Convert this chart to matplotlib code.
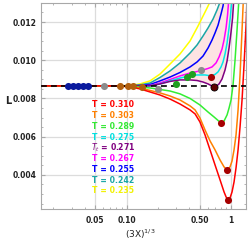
import matplotlib
matplotlib.use("Agg")
import matplotlib.pyplot as plt
from matplotlib.ticker import FixedLocator, MultipleLocator, LogLocator, NullFormatter

# ---- data ----
L_ref = 0.00865

yellow_x = [0.0152, 0.0867, 0.108, 0.1346, 0.168, 0.2094, 0.2607, 0.325, 0.4055, 0.483, 0.564, 0.6295, 0.673]
yellow_y = [0.00866, 0.00866, 0.00868, 0.00876, 0.00892, 0.00928, 0.00980, 0.01033, 0.01101, 0.01179, 0.01252, 0.01305, 0.01336]

teal_x = [0.0152, 0.0867, 0.108, 0.1346, 0.168, 0.2094, 0.2607, 0.325, 0.4055, 0.473, 0.5395, 0.6026, 0.673, 0.7345, 0.785, 0.802]
teal_y = [0.00866, 0.00866, 0.00866, 0.00871, 0.00881, 0.00910, 0.00944, 0.00986, 0.01038, 0.01080, 0.01127, 0.01169, 0.01216, 0.01263, 0.01305, 0.01336]

blue_x = [0.0152, 0.0867, 0.108, 0.1346, 0.168, 0.2094, 0.2607, 0.325, 0.4055, 0.473, 0.5395, 0.6026, 0.658, 0.703, 0.751, 0.802, 0.838, 0.867]
blue_y = [0.00866, 0.00866, 0.00866, 0.00868, 0.00873, 0.00892, 0.00912, 0.00936, 0.00965, 0.00991, 0.01022, 0.01064, 0.01106, 0.01143, 0.01184, 0.01242, 0.01284, 0.01336]

magenta_x = [0.0152, 0.0867, 0.1346, 0.168, 0.2094, 0.2607, 0.325, 0.4055, 0.473, 0.5395, 0.6026, 0.658, 0.7187, 0.768, 0.820, 0.857, 0.896, 0.926, 0.957]
magenta_y = [0.00866, 0.00866, 0.00866, 0.00868, 0.00881, 0.00899, 0.00918, 0.00933, 0.00941, 0.00949, 0.00957, 0.00965, 0.00986, 0.01017, 0.01059, 0.01106, 0.01169, 0.01237, 0.01336]

cyan_x = [0.0152, 0.0867, 0.1346, 0.168, 0.2094, 0.2607, 0.325, 0.4055, 0.473, 0.564, 0.644, 0.703, 0.751, 0.802, 0.838, 0.876, 0.916, 0.957, 0.989, 1.022]
cyan_y = [0.00866, 0.00866, 0.00866, 0.00866, 0.00876, 0.00892, 0.00907, 0.00918, 0.00923, 0.00923, 0.00918, 0.00926, 0.00939, 0.00965, 0.00991, 0.01033, 0.01090, 0.01169, 0.01237, 0.01336]

purple_x = [0.0152, 0.0867, 0.1346, 0.168, 0.2094, 0.2607, 0.325, 0.4055, 0.473, 0.5395, 0.6026, 0.658, 0.688, 0.7187, 0.768, 0.820, 0.876, 0.916, 0.957, 1.0, 1.034, 1.068]
purple_y = [0.00866, 0.00866, 0.00866, 0.00866, 0.00876, 0.00889, 0.00897, 0.00897, 0.00894, 0.00886, 0.00876, 0.00865, 0.00860, 0.00863, 0.00876, 0.00902, 0.00949, 0.00996, 0.01064, 0.01148, 0.01221, 0.01336]

green_x = [0.0152, 0.0867, 0.108, 0.1346, 0.168, 0.2094, 0.2607, 0.325, 0.4055, 0.504, 0.6026, 0.688, 0.751, 0.802, 0.857, 0.916, 0.957, 1.0, 1.045, 1.092, 1.141, 1.18, 1.193]
green_y = [0.00866, 0.00866, 0.00863, 0.00860, 0.00855, 0.00847, 0.00839, 0.00824, 0.00800, 0.00766, 0.00729, 0.00703, 0.00685, 0.00672, 0.00682, 0.00714, 0.00750, 0.00792, 0.00871, 0.01001, 0.01158, 0.01289, 0.01341]

orange_x = [0.0152, 0.0867, 0.108, 0.1346, 0.168, 0.2094, 0.2607, 0.325, 0.4055, 0.453, 0.504, 0.564, 0.6295, 0.703, 0.785, 0.857, 0.916, 0.978, 1.022, 1.068, 1.116, 1.167, 1.219, 1.274, 1.317]
orange_y = [0.00866, 0.00866, 0.00860, 0.00855, 0.00842, 0.00829, 0.00813, 0.00792, 0.00761, 0.00740, 0.00698, 0.00635, 0.00578, 0.00531, 0.00478, 0.00442, 0.00426, 0.00442, 0.00473, 0.00531, 0.00609, 0.00740, 0.00923, 0.01158, 0.01341]

red_x = [0.0152, 0.0867, 0.108, 0.1346, 0.168, 0.2094, 0.2607, 0.325, 0.4055, 0.453, 0.504, 0.564, 0.6295, 0.703, 0.785, 0.857, 0.896, 0.936, 0.978, 1.022, 1.068, 1.116, 1.167, 1.219, 1.274, 1.331, 1.392, 1.42]
red_y = [0.00866, 0.00866, 0.00860, 0.00850, 0.00834, 0.00818, 0.00797, 0.00771, 0.00740, 0.00719, 0.00677, 0.00609, 0.00531, 0.00452, 0.00374, 0.00311, 0.00285, 0.00269, 0.00280, 0.00311, 0.00363, 0.00437, 0.00531, 0.00651, 0.00792, 0.00975, 0.01184, 0.01315]

blue_dot_x = [0.0276, 0.0308, 0.0343, 0.0384, 0.0428]
blue_dot_y = [0.00866, 0.00866, 0.00866, 0.00866, 0.00866]
gray_dot_x = [0.0609, 0.200, 0.5165]
gray_dot_y = [0.00866, 0.00850, 0.00949]
brown_dot_x = [0.0867, 0.1033, 0.1153, 0.1406]
brown_dot_y = [0.00866, 0.00866, 0.00866, 0.00860]
green_dot_x = [0.298, 0.379, 0.4236]
green_dot_y = [0.00876, 0.00912, 0.00928]
red_dot_x = [0.644, 0.802, 0.916, 0.936]
red_dot_y = [0.00912, 0.00672, 0.00426, 0.00269]
dark_dot_x = [0.688]
dark_dot_y = [0.00860]

labels = ["T = 0.310", "T = 0.303", "T = 0.289", "T = 0.275", r"$T_t$ = 0.271",
          "T = 0.267", "T = 0.255", "T = 0.242", "T = 0.235"]
label_colors = ["#ff0000", "#ff8000", "#33e833", "#00e0e0", "#800080",
                "#ff00ff", "#0000ff", "#1aa6a6", "#f2f200"]

# ---- figure ----
fig = plt.figure(figsize=(2.5, 2.41), dpi=100)
ax = fig.add_axes([0.164, 0.133, 0.82, 0.855])
ax.set_xscale("log")

# shaded region between T=0.242 and T_t curves
fx = teal_x[3:] + purple_x[2:][::-1]
fy = teal_y[3:] + purple_y[2:][::-1]
ax.fill(fx, fy, color="#fde3e3", lw=0, zorder=1)

lw = 1.1
ax.plot(yellow_x, yellow_y, color="#ffff00", lw=lw, zorder=2)
ax.plot(teal_x, teal_y, color="#1aa6a6", lw=lw, zorder=2)
ax.plot(blue_x, blue_y, color="#0000ff", lw=lw, zorder=2)
ax.plot(magenta_x, magenta_y, color="#ff00ff", lw=lw, zorder=2)
ax.plot(cyan_x, cyan_y, color="#00e8e8", lw=lw, zorder=2)
ax.plot(purple_x, purple_y, color="#800080", lw=lw, zorder=2)
ax.plot(green_x, green_y, color="#33ee33", lw=lw, zorder=2)
ax.plot(orange_x, orange_y, color="#ff8000", lw=lw, zorder=2)
ax.plot(red_x, red_y, color="#ff0000", lw=lw, zorder=2)

ax.axhline(L_ref, color="black", lw=1.2, ls=(0, (3.5, 2.5)), zorder=3)

ms = 26
ax.scatter(blue_dot_x, blue_dot_y, s=ms, color="#0a1a9e", zorder=4, lw=0)
ax.scatter(gray_dot_x, gray_dot_y, s=ms, color="#8c8c8c", zorder=4, lw=0)
ax.scatter(brown_dot_x, brown_dot_y, s=ms, color="#b2600f", zorder=4, lw=0)
ax.scatter(green_dot_x, green_dot_y, s=ms, color="#1f9e1f", zorder=4, lw=0)
ax.scatter(red_dot_x, red_dot_y, s=ms, color="#a60000", zorder=4, lw=0)
ax.scatter(dark_dot_x, dark_dot_y, s=ms, color="#600000", edgecolor="black", zorder=4, lw=0.6)

for i, (t, c) in enumerate(zip(labels, label_colors)):
    ax.text(0.351, 0.505 - i * 0.0522, t, color=c, fontsize=5.6, fontweight="bold",
            ha="center", va="center", transform=ax.transAxes, zorder=5)

ax.set_xlim(0.0152, 1.39)
ax.set_ylim(0.00222, 0.0130)

ax.xaxis.set_major_locator(FixedLocator([0.05, 0.1, 0.5, 1.0]))
ax.set_xticklabels(["0.05", "0.10", "0.50", "1"])
ax.xaxis.set_minor_locator(LogLocator(base=10, subs=range(1, 10), numticks=20))
ax.xaxis.set_minor_formatter(NullFormatter())
ax.yaxis.set_minor_locator(MultipleLocator(0.0005))
ax.set_yticks([0.004, 0.006, 0.008, 0.010, 0.012])
ax.set_yticklabels(["0.004", "0.006", "0.008", "0.010", "0.012"])

ax.grid(True, which="major", color="#dcdcdc", lw=0.9, zorder=0)
ax.set_axisbelow(True)
for s in ax.spines.values():
    s.set_color("#a8a8a8")
    s.set_linewidth(0.8)
ax.tick_params(which="both", direction="in", top=True, right=True, color="#a8a8a8",
               labelsize=5.5, pad=3)
ax.tick_params(which="major", length=3)
ax.tick_params(which="minor", length=1.5)
ax.tick_params(axis="x", pad=5)
for lab in ax.get_xticklabels() + ax.get_yticklabels():
    lab.set_fontweight("bold")
    lab.set_color("#222222")

ax.set_ylabel("L", rotation=0, fontsize=7, fontweight="bold", color="#222222")
ax.yaxis.set_label_coords(-0.16, 0.5)
ax.set_xlabel(r"(3X)$^{1/3}$", fontsize=6.5, color="#222222")
ax.xaxis.set_label_coords(0.483, -0.09)

fig.savefig("out.png", dpi=100)
